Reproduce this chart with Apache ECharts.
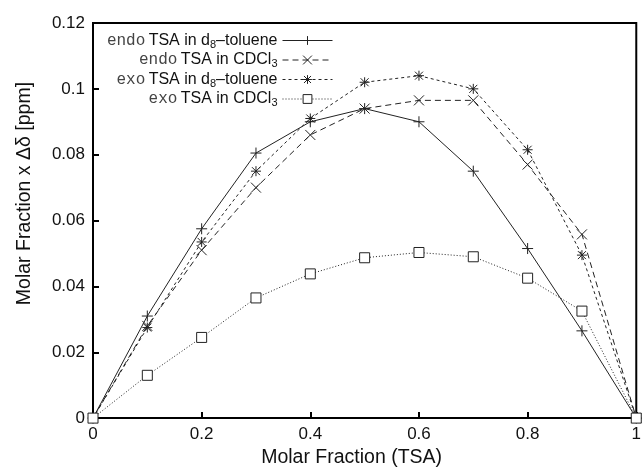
<!DOCTYPE html>
<html>
<head>
<meta charset="utf-8">
<script src="https://cdn.jsdelivr.net/npm/echarts@6/dist/echarts.min.js"></script>
<style>html,body{margin:0;padding:0;background:#fff}#c{width:644px;height:473px}</style>
</head>
<body>
<div id="c"></div>
<script>
var molarFraction = [0, 0.1, 0.2, 0.3, 0.4, 0.5, 0.6, 0.7, 0.8, 0.9, 1.0];
var endoToluene = [0, 0.031, 0.0575, 0.0805, 0.090, 0.094, 0.090, 0.075, 0.0515, 0.0265, 0];
var endoCDCl3   = [0, 0.028, 0.051, 0.070, 0.086, 0.094, 0.0965, 0.0965, 0.077, 0.0558, 0];
var exoToluene  = [0, 0.0275, 0.0535, 0.075, 0.091, 0.102, 0.104, 0.100, 0.0815, 0.0495, 0];
var exoCDCl3    = [0, 0.013, 0.0245, 0.0365, 0.0438, 0.0487, 0.0503, 0.049, 0.0425, 0.0325, 0];
var seriesNames = ['endo_tol', 'endo_cdcl3', 'exo_tol', 'exo_cdcl3'];
var legendLabels = {
  endo_tol: '{m|endo} {h|TSA in d}{s|8}{h|\u2013toluene}',
  endo_cdcl3: '{m|endo} {h|TSA in CDCl}{s|3}',
  exo_tol: '{m|exo} {h|TSA in d}{s|8}{h|\u2013toluene}',
  exo_cdcl3: '{m|exo} {h|TSA in CDCl}{s|3}'
};

var PLUS = 'path://M0,5L10,5M5,0L5,10';
var CROSS = 'path://M0,0L10,10M10,0L0,10';
var STAR = 'path://M0,5L10,5M5,0L5,10M1,1L9,9M9,1L1,9';

function pairs(arr) { return molarFraction.map(function (x, i) { return [x, arr[i]]; }); }

function mk(name, data, symbol, size, dash, fill) {
  return {
    name: name, type: 'line', data: pairs(data),
    symbol: symbol, symbolSize: size, showAllSymbol: true,
    lineStyle: { color: '#222', width: 1, type: dash },
    itemStyle: { color: fill, borderColor: '#222', borderWidth: 1 },
    emphasis: { disabled: true },
    animation: false, z: 3
  };
}

var chart = echarts.init(document.getElementById('c'), null, { renderer: 'canvas' });
chart.setOption({
  animation: false,
  backgroundColor: '#fff',
  grid: { left: 93, right: 5, top: 23, bottom: 51, show: true, borderColor: '#000', borderWidth: 2, backgroundColor: 'transparent' },
  legend: {
    data: seriesNames,
    orient: 'vertical', align: 'right',
    right: 311, top: 31,
    itemWidth: 50, itemHeight: 11, itemGap: 0.5,
    padding: 0,
    lineStyle: { width: 1 },
    itemStyle: { borderWidth: 1 },
    formatter: function (n) { return legendLabels[n]; },
    textStyle: {
      color: '#222',
      rich: {
        m: { fontFamily: 'Liberation Mono', fontSize: 16, lineHeight: 17, color: '#444' },
        h: { fontFamily: 'Liberation Sans', fontSize: 16, lineHeight: 17, color: '#111' },
        s: { fontFamily: 'Liberation Sans', fontSize: 11, lineHeight: 9, color: '#111', padding: [8, 0, 0, 0] }
      }
    },
    selectedMode: false
  },
  xAxis: {
    type: 'value', min: 0, max: 1, interval: 0.2,
    name: 'Molar Fraction (TSA)', nameLocation: 'middle', nameGap: 28,
    nameTextStyle: { fontFamily: 'Liberation Sans', fontSize: 19.5, color: '#111', padding: [0, 26, 0, 0] },
    axisLine: { lineStyle: { color: '#000', width: 2 } },
    axisTick: { inside: true, length: 6, lineStyle: { color: '#000', width: 2 } },
    axisLabel: { fontFamily: 'Liberation Sans', fontSize: 17, color: '#111', margin: 8 },
    splitLine: { show: false }
  },
  yAxis: {
    type: 'value', min: 0, max: 0.12, interval: 0.02,
    name: 'Molar Fraction x \u0394\u03b4 [ppm]', nameLocation: 'middle', nameGap: 58,
    nameTextStyle: { fontFamily: 'Liberation Sans', fontSize: 19.5, color: '#111', padding: [0, 0, 0, 54] },
    axisLine: { lineStyle: { color: '#000', width: 2 } },
    axisTick: { inside: true, length: 6, lineStyle: { color: '#000', width: 2 } },
    axisLabel: { fontFamily: 'Liberation Sans', fontSize: 17, color: '#111', margin: 8 },
    splitLine: { show: false }
  },
  series: [
    mk('endo_tol', endoToluene, PLUS, 11, 'solid', 'none'),
    mk('endo_cdcl3', endoCDCl3, CROSS, 10, [6, 4], 'none'),
    mk('exo_tol', exoToluene, STAR, 10, [3, 3], 'none'),
    mk('exo_cdcl3', exoCDCl3, 'rect', 10, [1, 2], '#fff')
  ]
});
</script>
</body>
</html>
